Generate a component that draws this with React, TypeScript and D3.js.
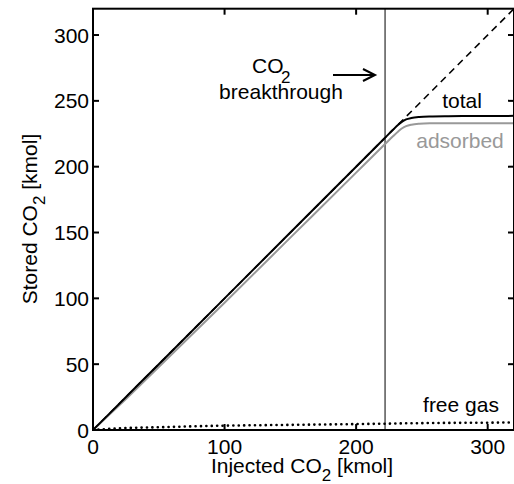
import React from "react";
import * as d3 from "d3";

// Injected CO2 [kmol] at which each series is sampled
const injected = [0, 20, 50, 100, 150, 200, 222, 228, 232, 235, 238, 242, 248, 256, 270, 290, 320];
// Total CO2 stored [kmol]
const totalStored = [0, 20, 50, 100, 150, 200, 222, 228, 231.8, 234.2, 235.9, 237.0, 237.8, 238.2, 238.4, 238.5, 238.6];
// Adsorbed CO2 [kmol]
const adsorbed = [0, 18.7, 47.9, 96.7, 146.1, 195.5, 217.2, 223.1, 226.8, 229.2, 230.8, 231.9, 232.6, 232.9, 233.0, 233.0, 233.0];
// Free gas CO2 [kmol]
const freeGas = [0, 1.3, 2.1, 3.3, 3.9, 4.5, 4.8, 4.9, 5.0, 5.0, 5.1, 5.1, 5.2, 5.3, 5.4, 5.5, 5.7];
// Reference line: stored = injected
const identity = [0, 320];

const breakthrough = 222;
const xTicks = [0, 100, 200, 300];
const yTicks = [0, 50, 100, 150, 200, 250, 300];

const W = 514;
const H = 484;
const margin = { left: 93, top: 8.7, right: 514, bottom: 430 };
const FONT = "'Liberation Sans', Arial, Helvetica, sans-serif";
const FS = 21;
const SUB = 17;

export default function App() {
  const x = d3.scaleLinear().domain([0, 320]).range([margin.left, margin.right]);
  const y = d3.scaleLinear().domain([0, 320]).range([margin.bottom, margin.top]);

  const line = d3
    .line<[number, number]>()
    .x((d) => x(d[0]))
    .y((d) => y(d[1]))
    .curve(d3.curveMonotoneX);

  const pts = (vals: number[]) => injected.map((v, i) => [v, vals[i]] as [number, number]);
  const straight = d3.line<[number, number]>().x((d) => x(d[0])).y((d) => y(d[1]));

  const tickLen = 6;

  return (
    <svg
      width={W}
      height={H}
      style={{ position: "absolute", left: 0, top: 0, background: "#fff" }}
      fontFamily={FONT}
    >
      <defs>
        <clipPath id="plotClip">
          <rect x={margin.left} y={margin.top} width={margin.right - margin.left} height={margin.bottom - margin.top} />
        </clipPath>
      </defs>

      <g clipPath="url(#plotClip)">
        {/* identity line */}
        <path
          d={straight(identity.map((v) => [v, v] as [number, number])) || ""}
          fill="none"
          stroke="#000"
          strokeWidth={1.6}
          strokeDasharray="7,5"
        />
        {/* breakthrough marker */}
        <line
          x1={x(breakthrough)}
          x2={x(breakthrough)}
          y1={margin.top}
          y2={margin.bottom}
          stroke="#555"
          strokeWidth={1.5}
        />
        <path d={line(pts(adsorbed)) || ""} fill="none" stroke="#999" strokeWidth={2} />
        <path d={line(pts(totalStored)) || ""} fill="none" stroke="#000" strokeWidth={2} />
        <path
          d={line(pts(freeGas)) || ""}
          fill="none"
          stroke="#000"
          strokeWidth={2.6}
          strokeDasharray="0.1,5.3"
          strokeLinecap="round"
        />
      </g>

      {/* axes box */}
      <rect
        x={margin.left}
        y={margin.top}
        width={margin.right - margin.left}
        height={margin.bottom - margin.top}
        fill="none"
        stroke="#000"
        strokeWidth={2}
      />

      {xTicks.map((t) => (
        <g key={"x" + t}>
          <line x1={x(t)} x2={x(t)} y1={margin.bottom} y2={margin.bottom - tickLen} stroke="#000" strokeWidth={2} />
          <line x1={x(t)} x2={x(t)} y1={margin.top} y2={margin.top + tickLen} stroke="#000" strokeWidth={2} />
          <text x={x(t)} y={margin.bottom + 24} textAnchor="middle" fontSize={FS}>
            {t}
          </text>
        </g>
      ))}
      {yTicks.map((t) => (
        <g key={"y" + t}>
          <line x1={margin.left} x2={margin.left + tickLen} y1={y(t)} y2={y(t)} stroke="#000" strokeWidth={2} />
          <line x1={margin.right} x2={margin.right - tickLen} y1={y(t)} y2={y(t)} stroke="#000" strokeWidth={2} />
          <text x={margin.left - 4} y={y(t) + 7.5} textAnchor="end" fontSize={FS}>
            {t}
          </text>
        </g>
      ))}

      {/* axis titles */}
      <text x={302} y={473} textAnchor="middle" fontSize={FS}>
        Injected CO
        <tspan fontSize={SUB} dy={8}>2</tspan>
        <tspan dy={-8}> [kmol]</tspan>
      </text>
      <text transform={`translate(37,219) rotate(-90)`} textAnchor="middle" fontSize={FS}>
        Stored CO
        <tspan fontSize={SUB} dy={8}>2</tspan>
        <tspan dy={-8}> [kmol]</tspan>
      </text>

      {/* series labels */}
      <text x={462} y={108} textAnchor="middle" fontSize={FS}>
        total
      </text>
      <text x={460} y={148} textAnchor="middle" fontSize={FS} fill="#999">
        adsorbed
      </text>
      <text x={461} y={412} textAnchor="middle" fontSize={FS}>
        free gas
      </text>

      {/* breakthrough annotation */}
      <text x={252} y={73} fontSize={FS}>
        CO
      </text>
      <text x={281} y={83} fontSize={SUB}>
        2
      </text>
      <text x={281} y={99} textAnchor="middle" fontSize={FS}>
        breakthrough
      </text>
      <line x1={333} x2={374} y1={75} y2={75} stroke="#000" strokeWidth={2} />
      <path d="M363,69 L375,75 L363,81" fill="none" stroke="#000" strokeWidth={2} />
    </svg>
  );
}
